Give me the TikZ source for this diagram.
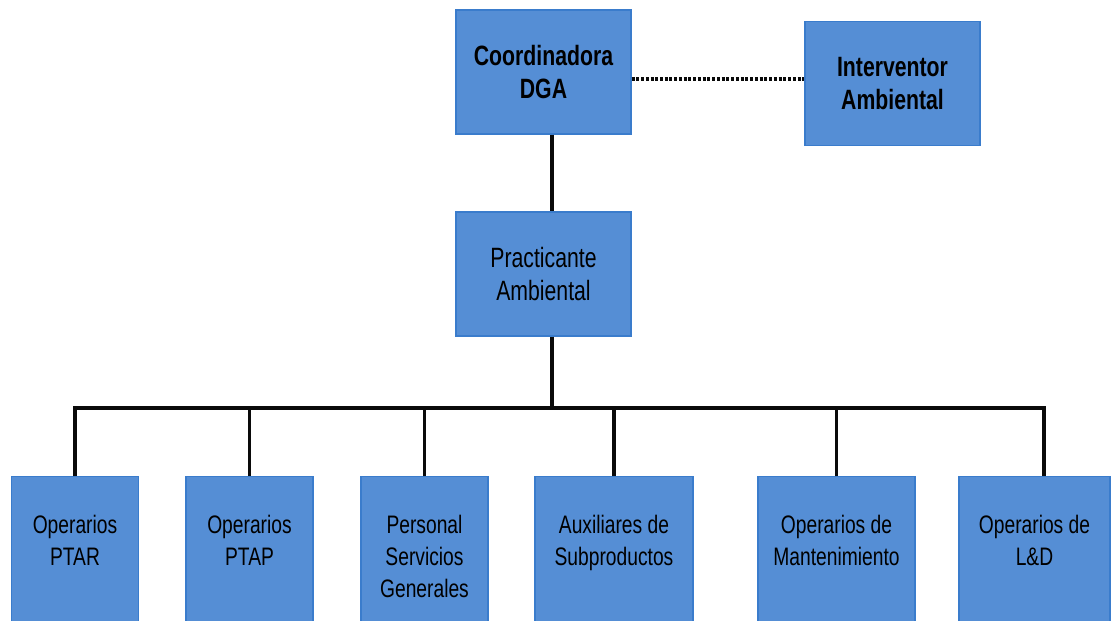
\documentclass[tikz,border=0pt]{standalone}
\usepackage{fontspec}
\setmainfont{Liberation Sans}[FakeStretch=0.76]
\usepackage{tikz}
\usetikzlibrary{positioning}
\usepackage{xcolor}
\definecolor{oblue}{RGB}{85, 142, 213}
\definecolor{oedge}{RGB}{58, 124, 204}
\definecolor{oline}{RGB}{10, 10, 10}

\begin{document}
\begin{tikzpicture}[
  topbox/.style={rectangle, draw=oedge, line width=0.6pt, fill=oblue,
                 minimum width=3.5cm, minimum height=2.48cm,
                 align=center, font=\fontsize{15.9}{18.8}\selectfont\bfseries, text=black},
  midbox/.style={topbox, font=\fontsize{15.9}{18.8}\selectfont},
  opbox/.style={rectangle, draw=oedge, line width=0.6pt, fill=oblue,
                minimum width=2.54cm, minimum height=3.2cm, anchor=north,
                align=center, font=\fontsize{14.4}{18.2}\selectfont, text=black},
  link/.style={oline, line width=1.9pt},
  dotlink/.style={oline, line width=2pt, dash pattern=on 1.7pt off 1pt}
]
\useasboundingbox (0,0) rectangle (22.28,-12.4);

\node[topbox] (coord)  at (10.87,-1.44) {Coordinadora\\DGA};
\node[topbox] (interv) at (17.85,-1.67) {Interventor\\Ambiental};
\node[midbox] (pract)  at (10.87,-5.48) {Practicante\\Ambiental};

\node[opbox] (op1) at (1.50,-9.52)  {Operarios\\PTAR\\~};
\node[opbox] (op2) at (4.99,-9.52)  {Operarios\\PTAP\\~};
\node[opbox] (op3) at (8.49,-9.52)  {Personal\\Servicios\\Generales};
\node[opbox, minimum width=3.16cm] (op4) at (12.28,-9.52) {Auxiliares de\\Subproductos\\~};
\node[opbox, minimum width=3.14cm] (op5) at (16.73,-9.52) {Operarios de\\Mantenimiento\\~};
\node[opbox, minimum width=3.02cm] (op6) at (20.69,-9.52) {Operarios de\\L\&D\\~};

% trunk and bus
\coordinate (bus)    at (11.04,-8.16);
\coordinate (busend) at (20.88,-8.16);
\coordinate (dots)   at (14.3,-1.58);

\draw[dotlink] (coord.east |- dots) -- (interv.west |- dots);
\draw[link] (coord.south -| bus) -- (pract.north -| bus);
\draw[link] (pract.south -| bus) -- (bus);
\draw[link] (op1.north) |- (busend) -- (busend |- op6.north);
\foreach \n in {2,...,5}
  \draw[link] (op\n.north) -- (op\n.north |- bus);

\end{tikzpicture}
\end{document}
